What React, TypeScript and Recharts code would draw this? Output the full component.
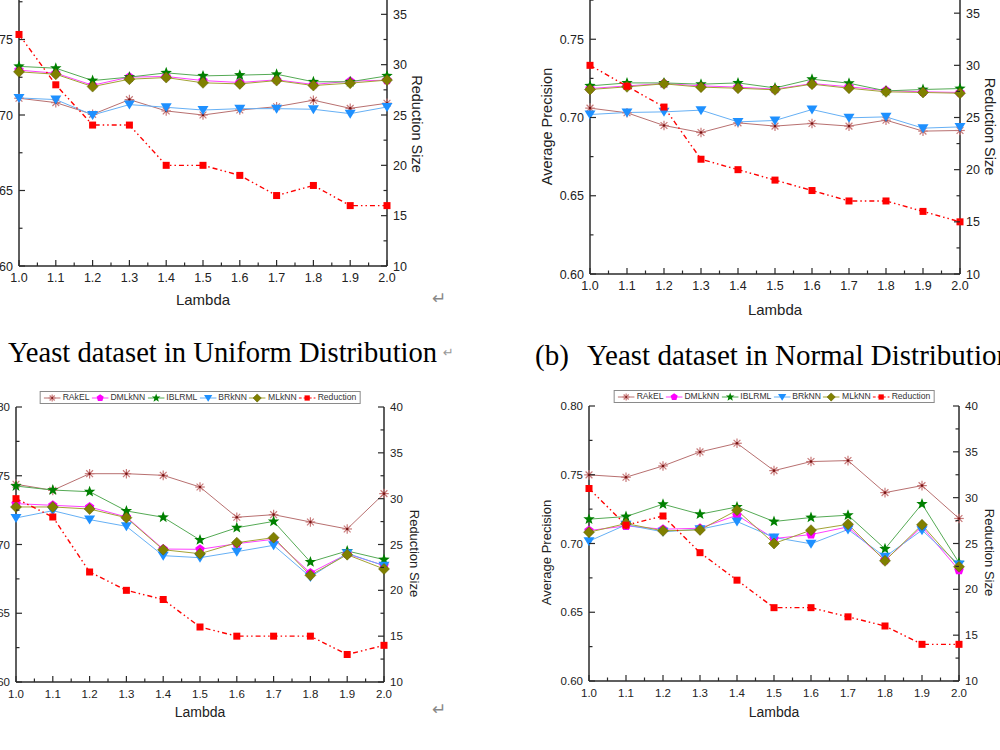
import React from 'react';
import { LineChart, Line, XAxis, YAxis } from 'recharts';

// lambda values on the x axis
const lambdas = [1.0, 1.1, 1.2, 1.3, 1.4, 1.5, 1.6, 1.7, 1.8, 1.9, 2.0];

// tick positions (majors carry labels, the rest are minor ticks)
const xTicks = [1.0, 1.05, 1.1, 1.15, 1.2, 1.25, 1.3, 1.35, 1.4, 1.45, 1.5, 1.55, 1.6, 1.65, 1.7, 1.75, 1.8, 1.85, 1.9, 1.95, 2.0];
const leftTicks = [0.6, 0.625, 0.65, 0.675, 0.7, 0.725, 0.75, 0.775, 0.8];
const rightTicks = [10, 12.5, 15, 17.5, 20, 22.5, 25, 27.5, 30, 32.5, 35, 37.5, 40];

// (a) yeast, uniform distribution
const aRakel = [0.7111, 0.7082, 0.7004, 0.7102, 0.7027, 0.7000, 0.7033, 0.7055, 0.7098, 0.7044, 0.7078];
const aDml = [0.7297, 0.7277, 0.7197, 0.7251, 0.7255, 0.7228, 0.7215, 0.7233, 0.7202, 0.7224, 0.7231];
const aIbl = [0.7322, 0.7310, 0.7228, 0.7251, 0.7279, 0.7259, 0.7264, 0.7270, 0.7220, 0.7220, 0.7259];
const aBr = [0.7113, 0.7102, 0.7000, 0.7069, 0.7051, 0.7033, 0.7042, 0.7042, 0.7038, 0.7009, 0.7053];
const aMl = [0.7286, 0.7270, 0.7188, 0.7237, 0.7248, 0.7213, 0.7206, 0.7228, 0.7195, 0.7211, 0.7231];
const aRed = [33, 28, 24, 24, 20, 20, 19, 17, 18, 16, 16];

// (b) yeast, normal distribution
const bRakel = [0.7060, 0.7030, 0.6949, 0.6904, 0.6966, 0.6945, 0.6962, 0.6945, 0.6983, 0.6913, 0.6917];
const bDml = [0.7185, 0.7202, 0.7217, 0.7202, 0.7194, 0.7181, 0.7217, 0.7196, 0.7172, 0.7164, 0.7160];
const bIbl = [0.7202, 0.7221, 0.7221, 0.7213, 0.7221, 0.7189, 0.7245, 0.7219, 0.7170, 0.7179, 0.7185];
const bBr = [0.7019, 0.7032, 0.7036, 0.7047, 0.6972, 0.6981, 0.7051, 0.6998, 0.7004, 0.6932, 0.6940];
const bMl = [0.7179, 0.7196, 0.7215, 0.7194, 0.7187, 0.7177, 0.7213, 0.7187, 0.7164, 0.7160, 0.7155];
const bRed = [30, 28, 26, 21, 20, 19, 18, 17, 17, 16, 15];

// (c) bottom left
const cRakel = [0.7438, 0.7394, 0.7515, 0.7515, 0.7503, 0.7418, 0.7198, 0.7217, 0.7164, 0.7113, 0.7370];
const cDml = [0.7297, 0.7285, 0.7273, 0.7200, 0.6967, 0.6965, 0.7006, 0.7038, 0.6793, 0.6931, 0.6848];
const cIbl = [0.7425, 0.7396, 0.7384, 0.7244, 0.7198, 0.7033, 0.7122, 0.7168, 0.6873, 0.6953, 0.6890];
const cBr = [0.7193, 0.7246, 0.7181, 0.7132, 0.6919, 0.6904, 0.6948, 0.6994, 0.6764, 0.6936, 0.6846];
const cMl = [0.7273, 0.7273, 0.7258, 0.7195, 0.6962, 0.6933, 0.7013, 0.7050, 0.6776, 0.6926, 0.6822];
const cRed = [30, 28, 22, 20, 19, 16, 15, 15, 15, 13, 14];

// (d) bottom right
const dRakel = [0.7499, 0.7482, 0.7564, 0.7666, 0.7729, 0.7530, 0.7596, 0.7603, 0.7370, 0.7421, 0.7182];
const dDml = [0.7094, 0.7128, 0.7104, 0.7111, 0.7206, 0.7036, 0.7065, 0.7121, 0.6879, 0.7121, 0.6806];
const dIbl = [0.7177, 0.7196, 0.7286, 0.7213, 0.7266, 0.7160, 0.7189, 0.7206, 0.6961, 0.7288, 0.6860];
const dBr = [0.7017, 0.7136, 0.7085, 0.7104, 0.7160, 0.7044, 0.6998, 0.7102, 0.6903, 0.7097, 0.6847];
const dMl = [0.7082, 0.7145, 0.7092, 0.7099, 0.7242, 0.7000, 0.7097, 0.7140, 0.6874, 0.7136, 0.6831];
const dRed = [31, 27, 28, 24, 21, 18, 18, 17, 16, 14, 14];

type Kind = 'asterisk' | 'pentagon' | 'star' | 'triDown' | 'diamond' | 'square';

const seriesDefs: { key: string; kind: Kind; line: string; mark: string; axis: string; dash?: string }[] = [
  { key: 'RAkEL', kind: 'asterisk', line: '#b87070', mark: '#c87a7a', axis: 'left' },
  { key: 'DMLkNN', kind: 'pentagon', line: '#ff40ff', mark: '#ff00ff', axis: 'left' },
  { key: 'IBLRML', kind: 'star', line: '#55aa55', mark: '#008000', axis: 'left' },
  { key: 'BRkNN', kind: 'triDown', line: '#66b0f5', mark: '#1e90ff', axis: 'left' },
  { key: 'MLkNN', kind: 'diamond', line: '#a3a335', mark: '#808000', axis: 'left' },
  { key: 'Reduction', kind: 'square', line: '#ff0000', mark: '#ff0000', axis: 'right', dash: '5 3 1.5 3 1.5 3' },
];

const buildRows = (rk: number[], dm: number[], ib: number[], br: number[], ml: number[], rd: number[]) =>
  lambdas.map((x, i) => ({ x, RAkEL: rk[i], DMLkNN: dm[i], IBLRML: ib[i], BRkNN: br[i], MLkNN: ml[i], Reduction: rd[i] }));

const rowsA = buildRows(aRakel, aDml, aIbl, aBr, aMl, aRed);
const rowsB = buildRows(bRakel, bDml, bIbl, bBr, bMl, bRed);
const rowsC = buildRows(cRakel, cDml, cIbl, cBr, cMl, cRed);
const rowsD = buildRows(dRakel, dDml, dIbl, dBr, dMl, dRed);

const NARROW = '"Liberation Sans Narrow", "Arial Narrow", "Liberation Sans", Arial, sans-serif';
const SANS = '"Liberation Sans", Arial, sans-serif';
const INK = '#222';

const polyPts = (cx: number, cy: number, n: number, rOut: number, rIn: number | null, rot: number) => {
  const pts: string[] = [];
  const count = rIn == null ? n : n * 2;
  for (let k = 0; k < count; k++) {
    const r = rIn == null || k % 2 === 0 ? rOut : rIn;
    const a = rot + (k * 2 * Math.PI) / count;
    pts.push(`${cx + r * Math.cos(a)},${cy + r * Math.sin(a)}`);
  }
  return pts.join(' ');
};

function marker(kind: Kind, cx: number, cy: number, color: string, s = 1, key?: string) {
  switch (kind) {
    case 'asterisk': {
      const r = 4.8 * s;
      const d = r * 0.707;
      return (
        <g key={key}>
          <g stroke={color} strokeWidth={1.2}>
            <line x1={cx - r} y1={cy} x2={cx + r} y2={cy} />
            <line x1={cx} y1={cy - r} x2={cx} y2={cy + r} />
            <line x1={cx - d} y1={cy - d} x2={cx + d} y2={cy + d} />
            <line x1={cx - d} y1={cy + d} x2={cx + d} y2={cy - d} />
          </g>
          <circle cx={cx} cy={cy} r={1.3 * s} fill="#7a1414" />
        </g>
      );
    }
    case 'pentagon':
      return <polygon key={key} points={polyPts(cx, cy, 5, 5 * s, null, -Math.PI / 2)} fill={color} />;
    case 'star':
      return <polygon key={key} points={polyPts(cx, cy, 5, 6 * s, 2.5 * s, -Math.PI / 2)} fill={color} />;
    case 'triDown':
      return <polygon key={key} points={`${cx - 5.5 * s},${cy - 4 * s} ${cx + 5.5 * s},${cy - 4 * s} ${cx},${cy + 5 * s}`} fill={color} />;
    case 'diamond':
      return <polygon key={key} points={`${cx},${cy - 5.5 * s} ${cx + 5.5 * s},${cy} ${cx},${cy + 5.5 * s} ${cx - 5.5 * s},${cy}`} fill={color} stroke="#5c5c00" strokeWidth={0.5} />;
    default:
      return <rect key={key} x={cx - 3.5 * s} y={cy - 3.5 * s} width={7 * s} height={7 * s} fill={color} />;
  }
}

function LegendBox({ left, top }: { left: number; top: number }) {
  return (
    <div
      style={{
        position: 'absolute', left, top, transform: 'translateX(-50%)', display: 'flex', alignItems: 'center',
        border: '1px solid #8a8a8a', background: '#fff', height: 11, padding: '0 1px 0 3px',
        fontFamily: NARROW, fontSize: 8.6, lineHeight: '11px', color: '#333', whiteSpace: 'nowrap',
      }}
    >
      {seriesDefs.map((d) => (
        <span key={d.key} style={{ display: 'flex', alignItems: 'center', marginRight: 2 }}>
          <svg width={17} height={10}>
            <line x1={0} y1={5} x2={17} y2={5} stroke={d.line} strokeWidth={1} strokeDasharray={d.dash ? '3 2' : undefined} />
            {marker(d.kind, 8.5, 5, d.mark, 0.75)}
          </svg>
          <span style={{ marginLeft: 2 }}>{d.key}</span>
        </span>
      ))}
    </div>
  );
}

const L = 70;
const R = 50;
const T = 30;
const B = 50;

interface PanelProps {
  rows: any[];
  left: number;
  top: number;
  w: number;
  h: number;
  tickFont: number;
  titleFont: number;
  sideFont: number;
  titleGap: number;
}

function Panel({ rows, left, top, w, h, tickFont, titleFont, sideFont, titleGap }: PanelProps) {
  const axisStroke = { stroke: '#2a2a2a', strokeWidth: 1.5 };
  const isMajorX = (v: number) => Math.abs(v * 10 - Math.round(v * 10)) < 1e-6;
  const isMajorL = (v: number) => Math.abs(v * 20 - Math.round(v * 20)) < 1e-6;
  const isMajorR = (v: number) => Math.abs(v / 5 - Math.round(v / 5)) < 1e-6;

  const bottomTick = (p: any) => {
    const v = p.payload.value;
    const major = isMajorX(v);
    return (
      <g>
        <line x1={p.x} y1={p.y} x2={p.x} y2={p.y - (major ? 6 : 3.5)} stroke="#2a2a2a" strokeWidth={1.2} />
        {major && (
          <text x={p.x} y={p.y + 16} textAnchor="middle" fontFamily={NARROW} fontSize={tickFont} fill={INK}>
            {v.toFixed(1)}
          </text>
        )}
      </g>
    );
  };
  const topTick = (p: any) => {
    const major = isMajorX(p.payload.value);
    return <line x1={p.x} y1={p.y} x2={p.x} y2={p.y + (major ? 6 : 3.5)} stroke="#2a2a2a" strokeWidth={1.2} />;
  };
  const leftTick = (p: any) => {
    const v = p.payload.value;
    const major = isMajorL(v);
    return (
      <g>
        <line x1={p.x} y1={p.y} x2={p.x + (major ? 6 : 3.5)} y2={p.y} stroke="#2a2a2a" strokeWidth={1.2} />
        {major && (
          <text x={p.x - 6} y={p.y + tickFont * 0.36} textAnchor="end" fontFamily={NARROW} fontSize={tickFont} fill={INK}>
            {v.toFixed(2)}
          </text>
        )}
      </g>
    );
  };
  const rightTick = (p: any) => {
    const v = p.payload.value;
    const major = isMajorR(v);
    return (
      <g>
        <line x1={p.x} y1={p.y} x2={p.x - (major ? 6 : 3.5)} y2={p.y} stroke="#2a2a2a" strokeWidth={1.2} />
        {major && (
          <text x={p.x + 6} y={p.y + tickFont * 0.36} textAnchor="start" fontFamily={NARROW} fontSize={tickFont} fill={INK}>
            {v}
          </text>
        )}
      </g>
    );
  };

  const midY = T + h / 2 + 9;
  const lambdaLabel = () => (
    <text x={L + w / 2} y={T + h + titleGap} textAnchor="middle" fontFamily={NARROW} fontSize={titleFont} fill={INK}>
      Lambda
    </text>
  );
  const leftLabel = () => (
    <text x={L - 43} y={midY} transform={`rotate(-90 ${L - 43} ${midY})`} textAnchor="middle" dominantBaseline="central" fontFamily={SANS} fontSize={sideFont} fill={INK}>
      Average Precision
    </text>
  );
  const rightLabel = () => (
    <text x={L + w + 30} y={midY} transform={`rotate(90 ${L + w + 30} ${midY})`} textAnchor="middle" dominantBaseline="central" fontFamily={SANS} fontSize={sideFont} fill={INK}>
      Reduction Size
    </text>
  );

  return (
    <div style={{ position: 'absolute', left: left - L, top: top - T, width: L + w + R, height: T + h + B }}>
      <LineChart width={L + w + R} height={T + h + B} data={rows} margin={{ top: T, right: 0, bottom: 0, left: 0 }}>
        <XAxis xAxisId="b" dataKey="x" type="number" domain={[1, 2]} ticks={xTicks} interval={0} tickSize={0} tickMargin={0}
          tickLine={false} axisLine={axisStroke} height={B} tick={bottomTick} label={lambdaLabel} />
        <XAxis xAxisId="t" orientation="top" dataKey="x" type="number" domain={[1, 2]} ticks={xTicks} interval={0} tickSize={0}
          tickMargin={0} tickLine={false} axisLine={axisStroke} height={0} tick={topTick} />
        <YAxis yAxisId="left" type="number" domain={[0.6, 0.8]} ticks={leftTicks} interval={0} tickSize={0} tickMargin={0}
          tickLine={false} axisLine={axisStroke} width={L} tick={leftTick} label={leftLabel} />
        <YAxis yAxisId="right" orientation="right" type="number" domain={[10, 40]} ticks={rightTicks} interval={0} tickSize={0}
          tickMargin={0} tickLine={false} axisLine={axisStroke} width={R} tick={rightTick} label={rightLabel} />
        {seriesDefs.map((d) => (
          <Line
            key={d.key}
            xAxisId="b"
            yAxisId={d.axis}
            type="linear"
            dataKey={d.key}
            stroke={d.line}
            strokeWidth={d.dash ? 1.4 : 1}
            strokeDasharray={d.dash}
            dot={(p: any) => marker(d.kind, p.cx, p.cy, d.mark, 1, `${d.key}-${p.index}`)}
            activeDot={false}
            isAnimationActive={false}
          />
        ))}
      </LineChart>
      <LegendBox left={L + w / 2} top={T - 16} />
    </div>
  );
}

const SERIF = '"Liberation Serif", "Times New Roman", serif';
const ARROW = '"DejaVu Sans", sans-serif';

export default function App() {
  return (
    <div style={{ position: 'fixed', left: 0, top: 0, width: 1000, height: 750, overflow: 'hidden', background: '#fff' }}>
      <Panel rows={rowsA} left={19} top={-36} w={368} h={302} tickFont={12.5} titleFont={15} sideFont={14.5} titleGap={39} />
      <Panel rows={rowsB} left={590} top={-39} w={370} h={313} tickFont={12.5} titleFont={15} sideFont={14.5} titleGap={41} />
      <Panel rows={rowsC} left={16} top={407} w={368} h={275} tickFont={11.5} titleFont={14} sideFont={13} titleGap={35} />
      <Panel rows={rowsD} left={589} top={406} w={370} h={275} tickFont={11.5} titleFont={14} sideFont={13} titleGap={36} />
      <svg width={1000} height={750} style={{ position: 'absolute', left: 0, top: 0, pointerEvents: 'none' }}>
        <text x={8} y={362} fontFamily={SERIF} fontSize={28.6} fill="#000">Yeast dataset in Uniform Distribution</text>
        <text x={443} y={357} fontFamily={ARROW} fontSize={13} fill="#999">↵</text>
        <text x={535} y={365} fontFamily={SERIF} fontSize={29} fill="#000">(b)</text>
        <text x={587} y={365} fontFamily={SERIF} fontSize={29} fill="#000">Yeast dataset in Normal Distribution</text>
        <text x={432} y={304} fontFamily={ARROW} fontSize={17} fill="#888">↵</text>
        <text x={432} y={715} fontFamily={ARROW} fontSize={17} fill="#888">↵</text>
      </svg>
    </div>
  );
}
